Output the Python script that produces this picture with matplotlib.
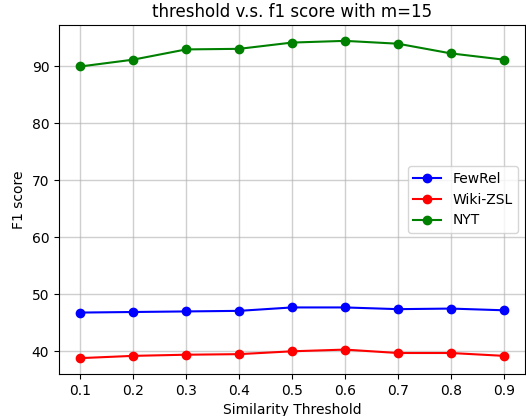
import matplotlib
matplotlib.use("Agg")
import matplotlib.pyplot as plt

thresholds = [0.1, 0.2, 0.3, 0.4, 0.5, 0.6, 0.7, 0.8, 0.9]
fewrel = [46.8, 46.9, 47.0, 47.1, 47.7, 47.7, 47.4, 47.5, 47.2]
wiki_zsl = [38.8, 39.2, 39.4, 39.5, 40.0, 40.3, 39.7, 39.7, 39.2]
nyt = [90.0, 91.2, 93.0, 93.1, 94.2, 94.5, 94.0, 92.3, 91.2]

fig = plt.figure(figsize=(5.26, 4.16), dpi=100)
ax = fig.add_subplot(111)
fig.subplots_adjust(left=59 / 526, right=525 / 526, top=1 - 25 / 416, bottom=1 - 374 / 416)

ax.plot(thresholds, fewrel, marker="o", color="blue", label="FewRel")
ax.plot(thresholds, wiki_zsl, marker="o", color="red", label="Wiki-ZSL")
ax.plot(thresholds, nyt, marker="o", color="green", label="NYT")

ax.set_xticks(thresholds)
ax.grid(True, color="#b0b0b0", alpha=0.6, linewidth=1.0)
ax.set_title("threshold v.s. f1 score with m=15")
ax.set_xlabel("Similarity Threshold")
ax.set_ylabel("F1 score")
ax.legend(loc="center right")

fig.savefig("out.png", dpi=100)
